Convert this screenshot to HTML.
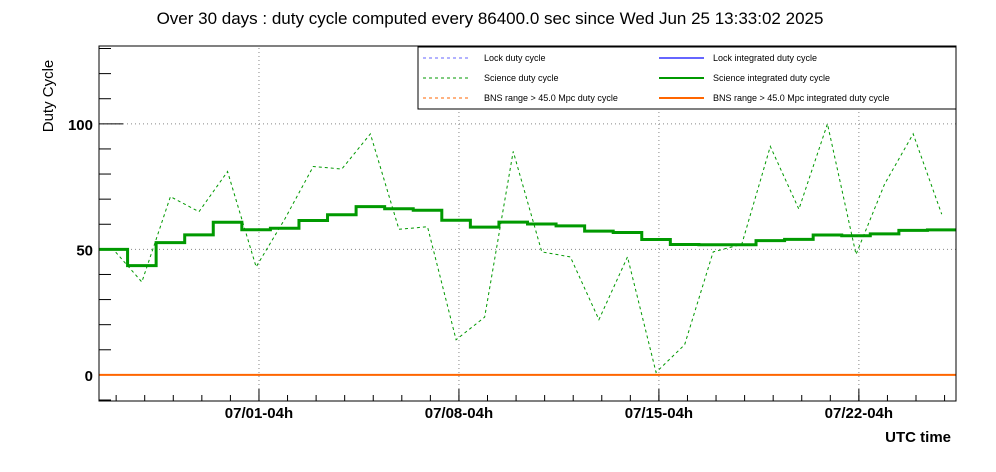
<!DOCTYPE html>
<html><head><meta charset="utf-8"><style>
body{margin:0;background:#fff;}
svg{display:block;font-family:"Liberation Sans",sans-serif;}
</style></head><body>
<svg id="c" width="996" height="472">
<text x="490" y="24" font-size="17" text-anchor="middle">Over 30 days : duty cycle computed every 86400.0 sec since Wed Jun 25 13:33:02 2025</text>
<text transform="translate(53,96) rotate(-90)" font-size="15" text-anchor="middle">Duty Cycle</text>
<text x="951" y="442" font-size="15" font-weight="bold" text-anchor="end">UTC time</text>
<g id="grid"></g><g id="axes"></g><g id="marks"></g>
<rect x="99" y="46" width="857" height="355" fill="none" stroke="#000" stroke-width="1"/>
<g>
<rect x="418" y="47" width="538" height="62" fill="#fff" stroke="#000"/>
<g font-size="9">
<line x1="423" y1="58" x2="470" y2="58" stroke="#6666ff" stroke-dasharray="3,3"/>
<text x="484" y="61">Lock duty cycle</text>
<line x1="423" y1="78" x2="470" y2="78" stroke="#009900" stroke-dasharray="3,3"/>
<text x="484" y="81">Science duty cycle</text>
<line x1="423" y1="98" x2="470" y2="98" stroke="#ff6600" stroke-dasharray="3,3"/>
<text x="484" y="101">BNS range &gt; 45.0 Mpc duty cycle</text>
<line x1="659" y1="58" x2="704" y2="58" stroke="#6666ff" stroke-width="2"/>
<text x="713" y="61">Lock integrated duty cycle</text>
<line x1="659" y1="78" x2="704" y2="78" stroke="#009900" stroke-width="2"/>
<text x="713" y="81">Science integrated duty cycle</text>
<line x1="659" y1="98" x2="704" y2="98" stroke="#ff6600" stroke-width="2"/>
<text x="713" y="101">BNS range &gt; 45.0 Mpc integrated duty cycle</text>
</g></g>
</svg>
<script>
const science = [50,37,71,65,81,43,62,83,82,96,58,59,14,23,89,49,47,22,47,1,12,49,52,91,66,100,48,76,96,64];
const bns = [0,0,0,0,0,0,0,0,0,0,0,0,0,0,0,0,0,0,0,0,0,0,0,0,0,0,0,0,0,0];
const yTicks = [0,50,100];
const xTickLabels = ["07/01-04h","07/08-04h","07/15-04h","07/22-04h"];
const xTickDays = [5.6,12.6,19.6,26.6];
const NS="http://www.w3.org/2000/svg";
const X0=99,X1=956,Y0=401,Y1=46,DAYS=30,YMIN=-10.4,YMAX=131;
const xs=d=>X0+(X1-X0)*d/DAYS;
const ys=v=>Y0-(Y0-Y1)*(v-YMIN)/(YMAX-YMIN);
function mk(tag,attrs,parent){const e=document.createElementNS(NS,tag);for(const k in attrs)e.setAttribute(k,attrs[k]);parent.appendChild(e);return e;}
const grid=document.getElementById('grid'),axes=document.getElementById('axes'),marks=document.getElementById('marks');
yTicks.forEach(v=>{
 const g=mk('line',{x1:X0,x2:X1,y1:ys(v),y2:ys(v),stroke:'#888','stroke-dasharray':'1,3'},grid);
 
 
 const t=mk('line',{x1:X0,x2:X0+24,y1:ys(v),y2:ys(v),stroke:'#000'},axes);
 
 
 const l=mk('text',{x:X0-6,y:ys(v)+6,'font-size':15,'font-weight':'bold','text-anchor':'end'},axes);
 l.textContent=v;
 
 
});
for(let v=-10;v<=130;v+=10){if(v%50===0)continue;
 const t=mk('line',{x1:X0,x2:X0+12,y1:ys(v),y2:ys(v),stroke:'#000'},axes);
 
 }
for(let d=xTickDays[0]%1;d<DAYS;d+=1){
 const t=mk('line',{x1:xs(d),x2:xs(d),y1:Y0,y2:Y0-6,stroke:'#000'},axes);
 
 }
xTickDays.forEach((d,i)=>{
 const g=mk('line',{x1:xs(d),x2:xs(d),y1:Y0,y2:Y1,stroke:'#888','stroke-dasharray':'1,3'},grid);
 
 
 const t=mk('line',{x1:xs(d),x2:xs(d),y1:Y0,y2:Y0-12,stroke:'#000'},axes);
 
 
 const l=mk('text',{x:xs(d),y:Y0+17,'font-size':15,'font-weight':'bold','text-anchor':'middle'},axes);
 l.textContent=xTickLabels[i];
 
 
});
// BNS integrated
let bc=0,bp='';bns.forEach((v,i)=>{bc+=v;const m=bc/(i+1);bp+=(i?'L':'M')+xs(i)+','+ys(m)+'L'+xs(i+1)+','+ys(m);});
// science dashed
let sp='M'+xs(0)+','+ys(science[0]);science.forEach((v,i)=>{sp+='L'+xs(i+0.5)+','+ys(v);});
const sl=mk('path',{d:sp,fill:'none',stroke:'#009900','stroke-width':1,'stroke-dasharray':'3,3'},marks);


let c=0,ip='';science.forEach((v,i)=>{c+=v;const m=c/(i+1);ip+=(i?'L':'M')+xs(i)+','+ys(m)+'L'+xs(i+1)+','+ys(m);});
const il=mk('path',{d:ip,fill:'none',stroke:'#009900','stroke-width':3},marks);


const bl=mk('path',{d:bp,fill:'none',stroke:'#ff6600','stroke-width':2},marks);


</script>
</body></html>
